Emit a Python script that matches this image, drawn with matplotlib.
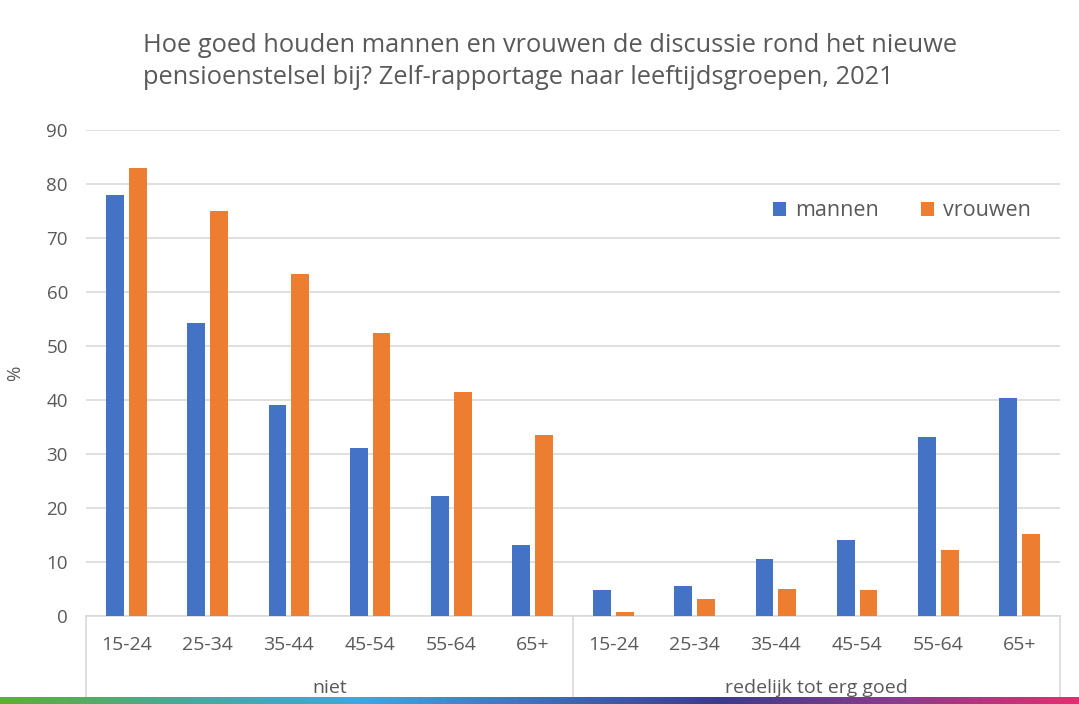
import numpy as np
import matplotlib.pyplot as plt
from matplotlib.colors import LinearSegmentedColormap

plt.rcParams['font.family'] = ['Open Sans', 'DejaVu Sans']

groups = ["niet", "redelijk tot erg goed"]
ages = ["15-24", "25-34", "35-44", "45-54", "55-64", "65+"]
mannen = [78.0, 54.3, 39.0, 31.2, 22.2, 13.2, 4.9, 5.6, 10.5, 14.0, 33.2, 40.4]
vrouwen = [83.0, 75.0, 63.4, 52.4, 41.5, 33.5, 0.7, 3.1, 5.0, 4.8, 12.3, 15.2]

blue = "#4472c4"
orange = "#ed7d31"
text_col = "#595959"
grid_col = "#d9d9d9"

fig = plt.figure(figsize=(10.79, 7.04), dpi=100)
W, H = 1079, 704
ax = fig.add_axes([86 / W, (H - 616) / H, 974 / W, 486 / H])

n = len(mannen)
x = np.arange(n)
w = 0.22
ax.bar(x - 0.14, mannen, w, color=blue, label="mannen", zorder=3)
ax.bar(x + 0.14, vrouwen, w, color=orange, label="vrouwen", zorder=3)

ax.set_xlim(-0.5, n - 0.5)
ax.set_ylim(0, 90)
ax.set_yticks(range(0, 91, 10))
ax.yaxis.grid(True, color=grid_col, linewidth=1.2, zorder=0)
ax.set_axisbelow(True)
for s in ["top", "right", "left"]:
    ax.spines[s].set_visible(False)
ax.spines["bottom"].set_color(grid_col)
ax.spines["bottom"].set_linewidth(1.2)
ax.tick_params(axis="y", length=0, labelsize=13.5, labelcolor=text_col, pad=13)
ax.set_xticks([])
ax.set_ylabel("%", fontsize=13.5, color=text_col, labelpad=16)

# category axis below the plot, with group boxes
for i in range(n):
    ax.text(i, -5.4, ages[i % len(ages)], ha="center", va="center",
            fontsize=14, color=text_col, clip_on=False)
for g, name in enumerate(groups):
    ax.text(g * 6 + 2.5, -13.3, name, ha="center", va="center",
            fontsize=14, color=text_col, clip_on=False)
for xb in [-0.5, 5.5, 11.5]:
    ax.plot([xb, xb], [0, -15.5], color=grid_col, linewidth=1.2, clip_on=False)

leg = ax.legend(loc="upper right", bbox_to_anchor=(0.99, 0.895), ncol=2,
                frameon=False, fontsize=15.5, handlelength=0.6, handleheight=0.6,
                columnspacing=2.0, handletextpad=0.4)
for t in leg.get_texts():
    t.set_color(text_col)

fig.text(143 / W, 1 - 45 / H,
         "Hoe goed houden mannen en vrouwen de discussie rond het nieuwe",
         fontsize=18.3, color=text_col, va="center", ha="left")
fig.text(143 / W, 1 - 78 / H,
         "pensioenstelsel bij? Zelf-rapportage naar leeftijdsgroepen, 2021",
         fontsize=18.3, color=text_col, va="center", ha="left")

# coloured strip at the bottom
strip = fig.add_axes([0, 0, 1, 7 / H])
cmap = LinearSegmentedColormap.from_list(
    "strip", ["#5bb033", "#49a89a", "#41a6df", "#3f6fb8", "#3b3b8e",
              "#8a3b8c", "#e0306f"])
strip.imshow(np.linspace(0, 1, 512)[None, :], aspect="auto", cmap=cmap)
strip.axis("off")

fig.savefig("out.png", dpi=100)
